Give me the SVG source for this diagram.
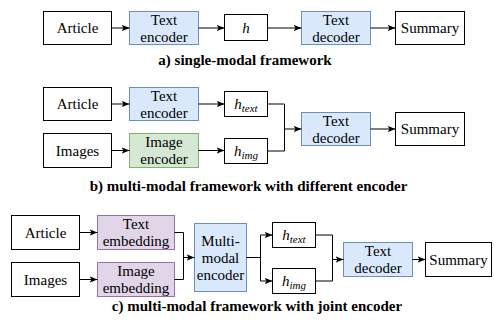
<svg xmlns="http://www.w3.org/2000/svg" width="494" height="327" viewBox="0 0 494 327">
<defs>
<marker id="arr" viewBox="0 0 8 8" refX="8" refY="4" markerWidth="8" markerHeight="8" markerUnits="userSpaceOnUse" orient="auto">
<path d="M0,0.8 L8,4 L0,7.2 L2,4 z" fill="#000"/>
</marker>
<style>
.n{fill:#fff;stroke:#000;stroke-width:1}
.b{fill:#dae8fc;stroke:#6c8ebf;stroke-width:1}
.g{fill:#d5e8d4;stroke:#82b366;stroke-width:1}
.p{fill:#e1d5e7;stroke:#9673a6;stroke-width:1}
text{font-family:'Liberation Serif','Times New Roman',serif;font-size:15px;fill:#000;text-anchor:middle}
.m{font-style:italic}
.s{font-size:11px;font-style:italic}
.cap{font-weight:bold}
.c{fill:none;stroke:#000;stroke-width:1}
.a{fill:none;stroke:#000;stroke-width:1;marker-end:url(#arr)}
</style>
</defs>

<!-- a) single-modal -->
<g id="a-article"><rect class="n" x="43.5" y="11.5" width="68" height="33"/><text x="77.5" y="33">Article</text></g>
<g id="a-textenc"><rect class="b" x="129.5" y="11.5" width="69" height="33"/><text x="164" y="24.5">Text</text><text x="164" y="41.5">encoder</text></g>
<g id="a-h"><rect class="n" x="224.5" y="14.5" width="43" height="26"/><text x="246" y="33" class="m">h</text></g>
<g id="a-textdec"><rect class="b" x="301.5" y="11.5" width="69" height="33"/><text x="336" y="24.5">Text</text><text x="336" y="41.5">decoder</text></g>
<g id="a-summary"><rect class="n" x="395.5" y="11.5" width="69" height="33"/><text x="430" y="33">Summary</text></g>
<text class="cap" x="245" y="65">a) single-modal framework</text>

<!-- b) different encoder -->
<g id="b-article"><rect class="n" x="43.5" y="87.5" width="68" height="33"/><text x="77.5" y="109">Article</text></g>
<g id="b-images"><rect class="n" x="43.5" y="133.5" width="68" height="34"/><text x="77.5" y="155.5">Images</text></g>
<g id="b-textenc"><rect class="b" x="129.5" y="87.5" width="69" height="33"/><text x="164" y="100.5">Text</text><text x="164" y="117.5">encoder</text></g>
<g id="b-imgenc"><rect class="g" x="129.5" y="133.5" width="69" height="34"/><text x="164" y="147">Image</text><text x="164" y="164">encoder</text></g>
<g id="b-htext"><rect class="n" x="224.5" y="91.5" width="43" height="25"/><text x="246" y="109"><tspan class="m">h</tspan><tspan class="s" dy="3">text</tspan></text></g>
<g id="b-himg"><rect class="n" x="224.5" y="138.5" width="43" height="25"/><text x="246" y="156"><tspan class="m">h</tspan><tspan class="s" dy="3">img</tspan></text></g>
<g id="b-textdec"><rect class="b" x="301.5" y="112.5" width="69" height="33"/><text x="336" y="125.5">Text</text><text x="336" y="142.5">decoder</text></g>
<g id="b-summary"><rect class="n" x="395.5" y="112.5" width="69" height="33"/><text x="430" y="134">Summary</text></g>
<text class="cap" x="248.5" y="190.5">b) multi-modal framework with different encoder</text>

<!-- c) joint encoder -->
<g id="c-article"><rect class="n" x="11.5" y="215.5" width="68" height="34"/><text x="45.5" y="237.5">Article</text></g>
<g id="c-images"><rect class="n" x="11.5" y="262.5" width="68" height="34"/><text x="45.5" y="284.5">Images</text></g>
<g id="c-textemb"><rect class="p" x="97.5" y="215.5" width="77" height="34"/><text x="136" y="229">Text</text><text x="136" y="246">embedding</text></g>
<g id="c-imgemb"><rect class="p" x="97.5" y="262.5" width="77" height="34"/><text x="136" y="276">Image</text><text x="136" y="293">embedding</text></g>
<g id="c-mmenc"><rect class="b" x="194.5" y="223.5" width="52" height="68"/><text x="220.5" y="245.5">Multi-</text><text x="220.5" y="262.5">modal</text><text x="220.5" y="279.5">encoder</text></g>
<g id="c-htext"><rect class="n" x="272.5" y="222.5" width="43" height="25"/><text x="294" y="240"><tspan class="m">h</tspan><tspan class="s" dy="3">text</tspan></text></g>
<g id="c-himg"><rect class="n" x="272.5" y="268.5" width="43" height="25"/><text x="294" y="286"><tspan class="m">h</tspan><tspan class="s" dy="3">img</tspan></text></g>
<g id="c-textdec"><rect class="b" x="343.5" y="242.5" width="69" height="34"/><text x="378" y="256">Text</text><text x="378" y="273">decoder</text></g>
<g id="c-summary"><rect class="n" x="425.5" y="242.5" width="66" height="34"/><text x="458.5" y="264.5">Summary</text></g>
<text class="cap" x="257" y="310.5">c) multi-modal framework with joint encoder</text>

<g id="connectors">
<path class="a" d="M111.5,28 H129.5"/>
<path class="a" d="M198.5,28 H224.5"/>
<path class="a" d="M267.5,28 H301.5"/>
<path class="a" d="M370.5,28 H395.5"/>
<path class="a" d="M111.5,104 H129.5"/>
<path class="a" d="M111.5,150.5 H129.5"/>
<path class="a" d="M198.5,104 H224.5"/>
<path class="a" d="M198.5,150.5 H224.5"/>
<path class="c" d="M267.5,104 H284.5 V151 H267.5"/>
<path class="a" d="M284.5,129 H301.5"/>
<path class="a" d="M370.5,129 H395.5"/>
<path class="a" d="M79.5,232.5 H97.5"/>
<path class="a" d="M79.5,279.5 H97.5"/>
<path class="c" d="M174.5,232.5 H183.5 V279.5 H174.5"/>
<path class="a" d="M183.5,257.5 H194.5"/>
<path class="c" d="M246.5,257.5 H260.5"/>
<path class="a" d="M260.5,257.5 V235 H272.5"/>
<path class="a" d="M260.5,257.5 V281 H272.5"/>
<path class="c" d="M315.5,235 H332.5 V281 H315.5"/>
<path class="a" d="M332.5,259.5 H343.5"/>
<path class="a" d="M412.5,259.5 H425.5"/>
</g>
</svg>
